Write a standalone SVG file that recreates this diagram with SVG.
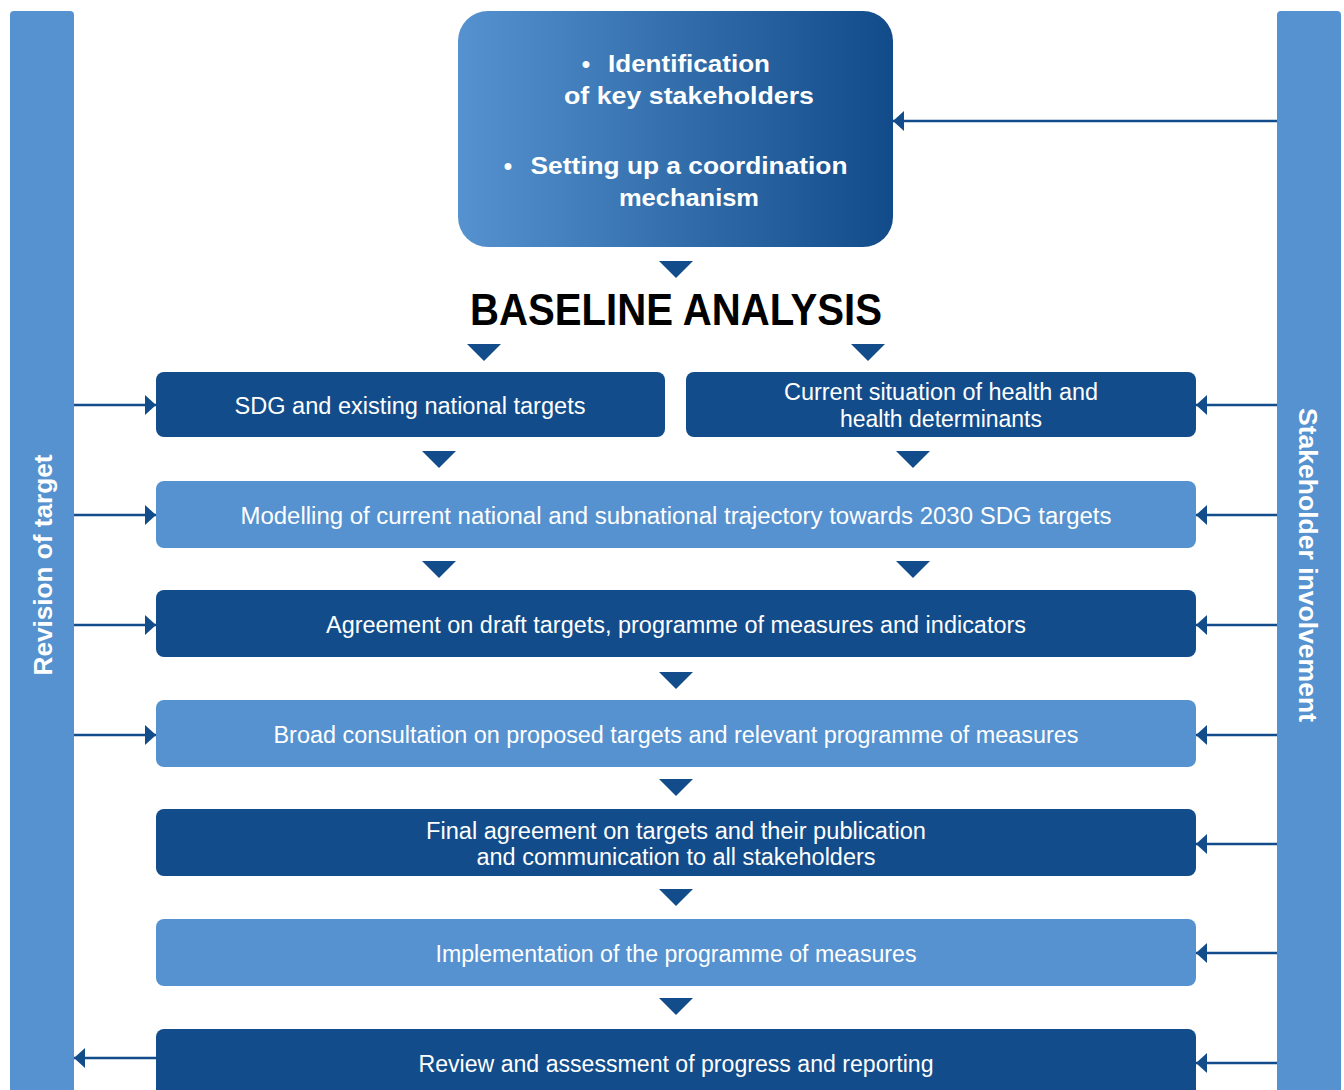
<svg xmlns="http://www.w3.org/2000/svg" width="1344" height="1090" viewBox="0 0 1344 1090">
<defs>
<linearGradient id="topGrad" x1="0" y1="0" x2="1" y2="0">
<stop offset="0" stop-color="#5592cf"/>
<stop offset="1" stop-color="#124b89"/>
</linearGradient>
<marker id="ah" viewBox="0 0 11 20" refX="11" refY="10" markerWidth="11" markerHeight="20" markerUnits="userSpaceOnUse" orient="auto">
<path d="M0,0 L11,10 L0,20 Z" fill="#124c8a"/>
</marker>
<path id="tri" d="M-17,0 L17,0 L0,17 Z"/>
</defs>
<style>
.bar{fill:#5592cf}
.dark{fill:#124c8a}
.light{fill:#5592cf}
.t{font-family:"Liberation Sans",Arial,sans-serif;font-size:23px;fill:#ffffff;text-anchor:middle}
.tb{font-family:"Liberation Sans",Arial,sans-serif;font-size:24px;font-weight:bold;fill:#ffffff;text-anchor:middle}
.vt{font-family:"Liberation Sans",Arial,sans-serif;font-size:25px;font-weight:bold;fill:#ffffff;text-anchor:middle}
.conn{stroke:#124c8a;stroke-width:2.5;fill:none;marker-end:url(#ah)}
.tri{fill:#124c8a}
</style>
<rect width="1344" height="1090" fill="#ffffff"/>

<g id="revision-of-target">
<rect class="bar" x="10" y="11" width="64" height="1090" rx="4"/>
<text class="vt" transform="translate(52,565) rotate(-90)" textLength="221" lengthAdjust="spacingAndGlyphs">Revision of target</text>
</g>
<g id="stakeholder-involvement">
<rect class="bar" x="1277" y="11" width="64" height="1090" rx="4"/>
<text class="vt" transform="translate(1299,565) rotate(90)" textLength="314" lengthAdjust="spacingAndGlyphs">Stakeholder involvement</text>
</g>

<g id="stakeholders-box">
<rect x="458" y="11" width="435" height="236" rx="30" fill="url(#topGrad)"/>
<text class="tb" x="586" y="72">•</text>
<text class="tb" x="689" y="72" textLength="162" lengthAdjust="spacingAndGlyphs">Identification</text>
<text class="tb" x="689" y="104" textLength="250" lengthAdjust="spacingAndGlyphs">of key stakeholders</text>
<text class="tb" x="508" y="174">•</text>
<text class="tb" x="689" y="174" textLength="317" lengthAdjust="spacingAndGlyphs">Setting up a coordination</text>
<text class="tb" x="689" y="206" textLength="140" lengthAdjust="spacingAndGlyphs">mechanism</text>
</g>

<g id="baseline-analysis">
<text x="676" y="325" font-family="'Liberation Sans',Arial,sans-serif" font-size="44" font-weight="bold" fill="#000000" text-anchor="middle" textLength="412" lengthAdjust="spacingAndGlyphs">BASELINE ANALYSIS</text>
</g>

<g id="sdg-targets">
<rect class="dark" x="156" y="372" width="509" height="65" rx="8"/>
<text class="t" x="410" y="414" textLength="351" lengthAdjust="spacingAndGlyphs">SDG and existing national targets</text>
</g>
<g id="current-situation">
<rect class="dark" x="686" y="372" width="510" height="65" rx="8"/>
<text class="t" x="941" y="400" textLength="314" lengthAdjust="spacingAndGlyphs">Current situation of health and</text>
<text class="t" x="941" y="427" textLength="202" lengthAdjust="spacingAndGlyphs">health determinants</text>
</g>
<g id="modelling">
<rect class="light" x="156" y="481" width="1040" height="67" rx="8"/>
<text class="t" x="676" y="524" textLength="871" lengthAdjust="spacingAndGlyphs">Modelling of current national and subnational trajectory towards 2030 SDG targets</text>
</g>
<g id="agreement-draft">
<rect class="dark" x="156" y="590" width="1040" height="67" rx="8"/>
<text class="t" x="676" y="633" textLength="700" lengthAdjust="spacingAndGlyphs">Agreement on draft targets, programme of measures and indicators</text>
</g>
<g id="broad-consultation">
<rect class="light" x="156" y="700" width="1040" height="67" rx="8"/>
<text class="t" x="676" y="743" textLength="805" lengthAdjust="spacingAndGlyphs">Broad consultation on proposed targets and relevant programme of measures</text>
</g>
<g id="final-agreement">
<rect class="dark" x="156" y="809" width="1040" height="67" rx="8"/>
<text class="t" x="676" y="839" textLength="500" lengthAdjust="spacingAndGlyphs">Final agreement on targets and their publication</text>
<text class="t" x="676" y="865" textLength="399" lengthAdjust="spacingAndGlyphs">and communication to all stakeholders</text>
</g>
<g id="implementation">
<rect class="light" x="156" y="919" width="1040" height="67" rx="8"/>
<text class="t" x="676" y="962" textLength="481" lengthAdjust="spacingAndGlyphs">Implementation of the programme of measures</text>
</g>
<g id="review">
<rect class="dark" x="156" y="1029" width="1040" height="80" rx="8"/>
<text class="t" x="676" y="1072" textLength="515" lengthAdjust="spacingAndGlyphs">Review and assessment of progress and reporting</text>
</g>

<g id="connectors">
<use href="#tri" class="tri" x="676" y="261"/>
<use href="#tri" class="tri" x="484" y="344"/>
<use href="#tri" class="tri" x="868" y="344"/>
<use href="#tri" class="tri" x="439" y="451"/>
<use href="#tri" class="tri" x="913" y="451"/>
<use href="#tri" class="tri" x="439" y="561"/>
<use href="#tri" class="tri" x="913" y="561"/>
<use href="#tri" class="tri" x="676" y="672"/>
<use href="#tri" class="tri" x="676" y="779"/>
<use href="#tri" class="tri" x="676" y="889"/>
<use href="#tri" class="tri" x="676" y="998"/>

<line class="conn" x1="74" y1="405" x2="156" y2="405"/>
<line class="conn" x1="74" y1="515" x2="156" y2="515"/>
<line class="conn" x1="74" y1="625" x2="156" y2="625"/>
<line class="conn" x1="74" y1="735" x2="156" y2="735"/>
<line class="conn" x1="156" y1="1058" x2="74" y2="1058"/>

<line class="conn" x1="1277" y1="121" x2="893" y2="121"/>
<line class="conn" x1="1277" y1="405" x2="1196" y2="405"/>
<line class="conn" x1="1277" y1="515" x2="1196" y2="515"/>
<line class="conn" x1="1277" y1="625" x2="1196" y2="625"/>
<line class="conn" x1="1277" y1="735" x2="1196" y2="735"/>
<line class="conn" x1="1277" y1="844" x2="1196" y2="844"/>
<line class="conn" x1="1277" y1="953" x2="1196" y2="953"/>
<line class="conn" x1="1277" y1="1063" x2="1196" y2="1063"/>
</g>
</svg>
